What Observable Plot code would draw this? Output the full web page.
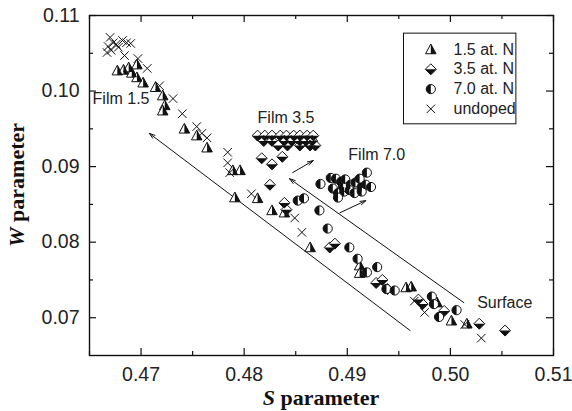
<!DOCTYPE html>
<html><head><meta charset="utf-8">
<script src="https://cdn.jsdelivr.net/npm/d3@7"></script>
<script src="https://cdn.jsdelivr.net/npm/@observablehq/plot@0.6"></script>
<style>body{margin:0;background:#fff}</style>
</head><body><div id="chart"></div>
<script>
// ---- data: [S parameter, W parameter]
const n15 = [[0.4677,0.1027],[0.4683,0.1028],[0.4688,0.1031],[0.4691,0.1024],[0.4696,0.1035],[0.4696,0.1018],[0.4702,0.1011],[0.4714,0.1005],[0.4721,0.0994],[0.4723,0.0981],[0.4721,0.0974],[0.4742,0.0950],[0.4754,0.0941],[0.4764,0.0925],[0.4789,0.0895],[0.4796,0.0895],[0.4791,0.0859],[0.4813,0.0858],[0.4827,0.0842],[0.4839,0.0839],[0.4864,0.0793],[0.4912,0.0769],[0.4912,0.0759],[0.4957,0.0740],[0.4962,0.0741],[0.4987,0.0720],[0.5001,0.0696],[0.5016,0.0692]];
const n35 = [[0.4813,0.0941],[0.4820,0.0941],[0.4827,0.0941],[0.4835,0.0941],[0.4841,0.0941],[0.4848,0.0941],[0.4854,0.0941],[0.4861,0.0941],[0.4867,0.0941],[0.4819,0.0934],[0.4827,0.0934],[0.4839,0.0934],[0.4846,0.0934],[0.4854,0.0934],[0.4860,0.0934],[0.4866,0.0934],[0.4833,0.0928],[0.4842,0.0928],[0.4854,0.0928],[0.4864,0.0928],[0.4869,0.0928],[0.4817,0.0911],[0.4827,0.0903],[0.4837,0.0913],[0.4825,0.0876],[0.4839,0.0852],[0.4841,0.0843],[0.4883,0.0793],[0.4888,0.0798],[0.4928,0.0746],[0.4934,0.0750],[0.4939,0.0738],[0.4969,0.0724],[0.4973,0.0718],[0.4994,0.0709],[0.5028,0.0692],[0.5053,0.0683]];
const n70 = [[0.4874,0.0877],[0.4884,0.0885],[0.4889,0.0884],[0.4894,0.0880],[0.4898,0.0883],[0.4903,0.0876],[0.4908,0.0879],[0.4914,0.0873],[0.4918,0.0876],[0.4923,0.0873],[0.4919,0.0892],[0.4886,0.0871],[0.4891,0.0865],[0.4897,0.0867],[0.4902,0.0869],[0.4907,0.0865],[0.4914,0.0867],[0.4891,0.0859],[0.4912,0.0884],[0.4896,0.0873],[0.4852,0.0855],[0.4858,0.0858],[0.4873,0.0842],[0.4881,0.0818],[0.4902,0.0793],[0.4910,0.0778],[0.4919,0.0760],[0.4929,0.0767],[0.4938,0.0738],[0.4946,0.0736],[0.4982,0.0728],[0.4984,0.0718],[0.4989,0.0701],[0.5006,0.0710]];
const undoped = [[0.4670,0.1071],[0.4673,0.1064],[0.4668,0.1059],[0.4676,0.1062],[0.4671,0.1054],[0.4667,0.1051],[0.4678,0.1058],[0.4682,0.1067],[0.4686,0.1064],[0.4684,0.1047],[0.4690,0.1063],[0.4697,0.1043],[0.4706,0.1030],[0.4718,0.1007],[0.4731,0.0990],[0.4740,0.0970],[0.4754,0.0953],[0.4759,0.0944],[0.4764,0.0938],[0.4784,0.0919],[0.4784,0.0905],[0.4786,0.0892],[0.4807,0.0864],[0.4849,0.0832],[0.4856,0.0813],[0.4965,0.0722],[0.4975,0.0707],[0.5014,0.0691],[0.5030,0.0673]];

const legendLabels = ["1.5 at. N", "3.5 at. N", "7.0 at. N", "undoped"];
const xMajor = [0.47, 0.48, 0.49, 0.50, 0.51];
const xMinor = [0.465, 0.475, 0.485, 0.495, 0.505];
const yMajor = [0.07, 0.08, 0.09, 0.10, 0.11];
const yMinor = [0.075, 0.085, 0.095, 0.105];
const fmt = d3.format(".2f");

// annotations: [S1, W1, S2, W2] (tail -> head)
const arrows = [[0.4961,0.0683,0.4708,0.0944],[0.5013,0.0720,0.4844,0.0884],[0.4847,0.0892,0.4867,0.0908],[0.4893,0.0839,0.4918,0.0855]];
const notes = [{t:"Film 1.5",s:0.4653,w:0.0989},{t:"Film 3.5",s:0.4813,w:0.0965},{t:"Film 7.0",s:0.4901,w:0.0915},{t:"Surface",s:0.5026,w:0.0719}];

// ---- symbols
const R = s => Math.sqrt(s / Math.PI);
const tri = {draw(c, s){const r=R(s); c.moveTo(0,-r*1.1); c.lineTo(r*1.05,r*0.85); c.lineTo(-r*1.05,r*0.85); c.closePath();}};
const triH = {draw(c, s){const r=R(s); c.moveTo(0,-r*1.1); c.lineTo(r*1.05,r*0.85); c.lineTo(0,r*0.85); c.closePath();}};
const dia = {draw(c, s){const r=R(s)*1.1; c.moveTo(0,-r); c.lineTo(r,0); c.lineTo(0,r); c.lineTo(-r,0); c.closePath();}};
const diaH = {draw(c, s){const r=R(s)*1.1; c.moveTo(-r,0); c.lineTo(r,0); c.lineTo(0,r); c.closePath();}};
const cir = {draw(c, s){const r=R(s)*0.92; c.moveTo(r,0); c.arc(0,0,r,0,2*Math.PI);}};
const cirH = {draw(c, s){const r=R(s)*0.92; c.moveTo(0,-r); c.arc(0,0,r,-Math.PI/2,Math.PI/2,true); c.closePath();}};
const crs = {draw(c, s){const r=R(s)*0.85; c.moveTo(-r,-r); c.lineTo(r,r); c.moveTo(r,-r); c.lineTo(-r,r);}};

const series = [
  {data:n15, outline:tri, half:triH},
  {data:n35, outline:dia, half:diaH},
  {data:n70, outline:cir, half:cirH},
];

function halfDots(data, outline, half) {
  return [
    Plot.dot(data, {x:d=>d[0], y:d=>d[1], symbol:outline, r:5, fill:"white", stroke:"#111", strokeWidth:1}),
    Plot.dot(data, {x:d=>d[0], y:d=>d[1], symbol:half, r:5, fill:"#111", stroke:"none"})
  ];
}

// legend layout (data units inside the plot frame)
const legX1 = 0.4955, legX2 = 0.5064, legYtop = 0.1076, legYbot = 0.0956;
const legSym = 0.4981, legTxt = 0.5003, legRow0 = 0.1055, legStep = 0.00262;
const legRows = legendLabels.map((t,i)=>({t, s:legSym, st:legTxt, w:legRow0 - i*legStep}));

const W = 572, H = 411, mL = 89, mR = 19, mT = 15, mB = 56;
const fw = W - mL - mR, fh = H - mT - mB;

const chart = Plot.plot({
  width: W, height: H,
  marginLeft: mL, marginRight: mR, marginTop: mT, marginBottom: mB,
  style: {fontFamily: "'Liberation Sans', Arial, sans-serif", color: "#111", background: "white"},
  x: {domain: [0.465, 0.51], axis: null},
  y: {domain: [0.065, 0.11], axis: null},
  marks: [
    // tick labels
    Plot.text(xMajor, {x: d=>d, text: d=>fmt(d), frameAnchor: "bottom", lineAnchor: "top", dy: 12, fontSize: 19.5, fill: "#222"}),
    Plot.text(yMajor, {y: d=>d, text: d=>fmt(d), frameAnchor: "left", textAnchor: "end", dx: -10, fontSize: 19.5, fill: "#222"}),
    // inward ticks on all four sides
    Plot.tickX(xMajor, {x: d=>d, insetTop: fh-7, stroke: "#111", strokeWidth: 1.2}),
    Plot.tickX(xMajor, {x: d=>d, insetBottom: fh-7, stroke: "#111", strokeWidth: 1.2}),
    Plot.tickX(xMinor, {x: d=>d, insetTop: fh-4, stroke: "#111", strokeWidth: 1.2}),
    Plot.tickX(xMinor, {x: d=>d, insetBottom: fh-4, stroke: "#111", strokeWidth: 1.2}),
    Plot.tickY(yMajor, {y: d=>d, insetRight: fw-7, stroke: "#111", strokeWidth: 1.2}),
    Plot.tickY(yMajor, {y: d=>d, insetLeft: fw-7, stroke: "#111", strokeWidth: 1.2}),
    Plot.tickY(yMinor, {y: d=>d, insetRight: fw-4, stroke: "#111", strokeWidth: 1.2}),
    Plot.tickY(yMinor, {y: d=>d, insetLeft: fw-4, stroke: "#111", strokeWidth: 1.2}),
    Plot.arrow(arrows, {x1:d=>d[0], y1:d=>d[1], x2:d=>d[2], y2:d=>d[3], stroke:"#111", strokeWidth:1, headLength:9, headAngle:35}),
    Plot.text(notes, {x:"s", y:"w", text:"t", textAnchor:"start", fontSize:16, fill:"#222"}),
    ...series.flatMap(s => halfDots(s.data, s.outline, s.half)),
    Plot.dot(undoped, {x:d=>d[0], y:d=>d[1], symbol:crs, r:5, stroke:"#111", strokeWidth:1}),
    // legend
    Plot.rect([0], {x1: legX1, x2: legX2, y1: legYbot, y2: legYtop, fill: "white", stroke: "#111", strokeWidth: 1}),
    ...halfDots([legRows[0]].map(d=>[d.s,d.w]), tri, triH),
    ...halfDots([legRows[1]].map(d=>[d.s,d.w]), dia, diaH),
    ...halfDots([legRows[2]].map(d=>[d.s,d.w]), cir, cirH),
    Plot.dot([legRows[3]].map(d=>[d.s,d.w]), {x:d=>d[0], y:d=>d[1], symbol:crs, r:5, stroke:"#111", strokeWidth:1}),
    Plot.text(legRows, {x:"st", y:"w", text:"t", textAnchor:"start", fontSize:16, fill:"#222"}),
    Plot.frame({stroke: "#111", strokeWidth: 1.4})
  ]
});

// axis titles with italic variable letters
const svg = d3.select(chart);
const tx = svg.append("text")
  .attr("x", mL + fw/2).attr("y", H - 6)
  .attr("text-anchor", "middle")
  .style("font-family", "'Liberation Serif', 'Times New Roman', serif")
  .style("font-weight", "bold").style("font-size", "22px").attr("fill", "#111");
tx.append("tspan").style("font-style", "italic").text("S");
tx.append("tspan").text(" parameter");
const ty = svg.append("text")
  .attr("transform", `translate(${24},${mT + fh/2}) rotate(-90)`)
  .attr("text-anchor", "middle")
  .style("font-family", "'Liberation Serif', 'Times New Roman', serif")
  .style("font-weight", "bold").style("font-size", "22px").attr("fill", "#111");
ty.append("tspan").style("font-style", "italic").text("W");
ty.append("tspan").text(" parameter");

document.getElementById("chart").append(chart);
</script>
</body></html>
